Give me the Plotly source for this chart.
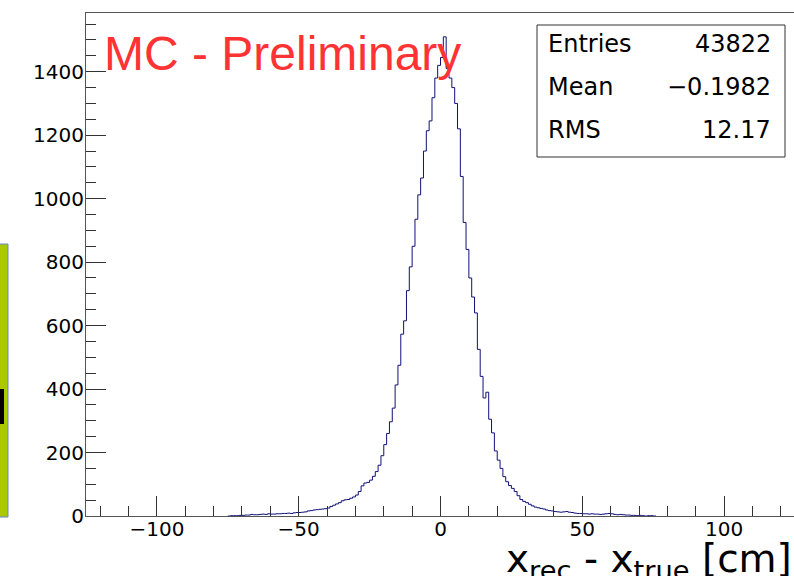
import numpy as np
import plotly.graph_objects as go

# bin width 1 cm, first bin of counts_neg starts at -75, counts_pos starts at 0
bin_start = -75
counts_neg = [0, 1, 1, 1, 2, 2, 3, 3, 5, 4,
              4, 5, 6, 5, 7, 6, 6, 7, 7, 8,
              8, 9, 8, 10, 11, 11, 12, 13, 16, 17,
              19, 20, 21, 22, 23, 25, 30, 34, 38, 42,
              48, 51, 52, 56, 60, 66, 77, 95, 104, 106,
              113, 125, 140, 160, 190, 225, 260, 297, 340, 413,
              475, 573, 615, 710, 785, 850, 935, 1012, 1065, 1150,
              1214, 1245, 1318, 1380, 1420]
counts_pos = [1445, 1510, 1410, 1380, 1350, 1300, 1220, 1070, 925, 840,
              750, 690, 640, 525, 440, 372, 390, 305, 262, 205,
              176, 150, 124, 108, 96, 87, 77, 64, 52, 46,
              42, 37, 32, 28, 26, 24, 22, 19, 17, 16,
              14, 13, 12, 13, 14, 12, 11, 9, 8, 8,
              7, 7, 6, 7, 6, 6, 5, 6, 7, 8,
              7, 5, 4, 5, 4, 3, 3, 2, 2, 1,
              2, 1, 0, 1, 1, 0]

stat_names = ["Entries", "Mean", "RMS"]
stat_values = ["43822", "\u22120.1982", "12.17"]

x_ticks = [-100, -50, 0, 50, 100]

counts = counts_neg + counts_pos
edges = np.arange(bin_start, bin_start + len(counts) + 1)
yline = counts + [counts[-1]]

# plot area in pixels: x 86..794, y 13..516
L, T, W, H = 86, 13, 708, 503


def px(x):
    return (x - L) / W


def py(y):
    return (T + H - y) / H


fig = go.Figure()
fig.add_trace(go.Scatter(x=edges, y=yline, mode="lines",
                         line=dict(shape="hv", color="#10107a", width=1),
                         hoverinfo="skip", showlegend=False))

tickfont = dict(family="DejaVu Sans", size=20, color="black")

fig.update_layout(
    width=794, height=576,
    margin=dict(l=L, r=794 - L - W, t=T, b=576 - T - H),
    paper_bgcolor="white", plot_bgcolor="white",
    showlegend=False,
    xaxis=dict(range=[-125, 124.65], tickvals=x_ticks, ticks="inside", ticklen=20,
               tickcolor="#333", tickwidth=1, showgrid=False, zeroline=False,
               showline=True, linecolor="#555", linewidth=1, mirror=True,
               minor=dict(dtick=10, tick0=0, ticks="inside", ticklen=10, tickcolor="#333"),
               tickfont=tickfont, ticklabelstandoff=-5, automargin=False),
    yaxis=dict(range=[0, 1585], dtick=200, ticks="inside", ticklen=20,
               tickcolor="#333", tickwidth=1, showgrid=False, zeroline=False,
               showline=True, linecolor="#555", linewidth=1,
               minor=dict(dtick=50, ticks="inside", ticklen=10, tickcolor="#333"),
               tickfont=tickfont, ticklabelstandoff=-3, automargin=False),
)

shapes = [
    # stats box
    dict(type="rect", xref="paper", yref="paper", x0=px(537), x1=px(785), y0=py(157), y1=py(25),
         line=dict(color="#333", width=1), fillcolor="white", layer="above"),
    # cut-off slide element on the left
    dict(type="rect", xref="paper", yref="paper", x0=px(-2), x1=px(8), y0=py(517), y1=py(244),
         line=dict(color="#6688cc", width=1), fillcolor="#abc800", layer="above"),
    dict(type="rect", xref="paper", yref="paper", x0=px(-2), x1=px(4), y0=py(424), y1=py(389),
         line=dict(width=0), fillcolor="black", layer="above"),
]
fig.update_layout(shapes=shapes)

ann = []
ann.append(dict(text="MC - Preliminary", xref="paper", yref="paper", x=px(102), y=py(53),
                xanchor="left", yanchor="middle", showarrow=False,
                font=dict(family="Liberation Sans", size=48, color="#ff3333")))
row_y = [44, 87, 130]
for name, val, yy in zip(stat_names, stat_values, row_y):
    ann.append(dict(text=name, xref="paper", yref="paper", x=px(546), y=py(yy),
                    xanchor="left", yanchor="middle", showarrow=False,
                    font=dict(family="DejaVu Sans", size=24, color="black")))
    ann.append(dict(text=val, xref="paper", yref="paper", x=px(773), y=py(yy),
                    xanchor="right", yanchor="middle", showarrow=False,
                    font=dict(family="DejaVu Sans", size=24, color="black")))
# axis title sits low, its subscripts run off the bottom edge as in the original
ann.append(dict(text="x<sub>rec</sub> - x<sub>true</sub> [cm]", xref="paper", yref="paper",
                x=1.0, y=py(561), xanchor="right", yanchor="middle", showarrow=False,
                font=dict(family="DejaVu Sans", size=39, color="black")))
fig.update_layout(annotations=ann)

# page body has a default margin; remove it so the figure sits at the window corner
fig.write_html("out.html", config={"displayModeBar": False},
               post_script="document.body.style.margin='0';")
